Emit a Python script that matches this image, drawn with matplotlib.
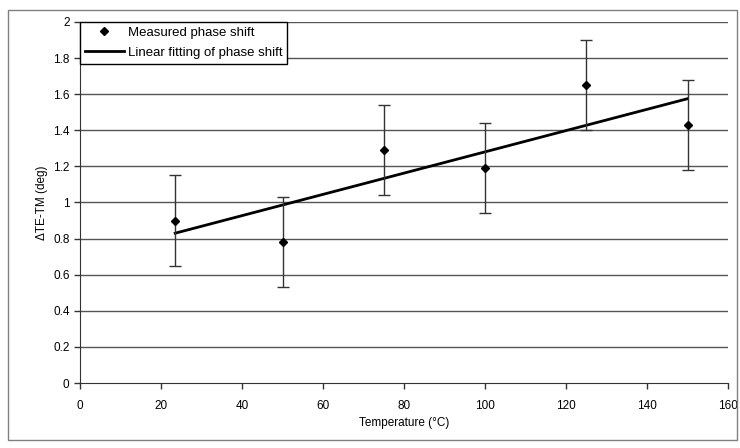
import matplotlib
matplotlib.use("Agg")
import matplotlib.pyplot as plt
from matplotlib.patches import Rectangle
from matplotlib.lines import Line2D

plt.rcParams['font.family'] = ['Liberation Sans', 'DejaVu Sans']

temp = [23.5, 50, 75, 100, 125, 150]
phase = [0.90, 0.78, 1.29, 1.19, 1.65, 1.43]
phase_err = [0.25, 0.25, 0.25, 0.25, 0.25, 0.25]
fit_x = [23.5, 150]
fit_y = [0.83, 1.575]

fig = plt.figure(figsize=(7.4, 4.48), dpi=100)
ax = fig.add_axes([80 / 740, (448 - 383) / 448, (728 - 80) / 740, (383 - 22) / 448])

fig.patches.append(Rectangle((8 / 740, 8 / 448), 729 / 740, 430 / 448, transform=fig.transFigure,
                             fill=False, edgecolor='#808080', linewidth=1.0))

for y in [0.2, 0.4, 0.6, 0.8, 1.0, 1.2, 1.4, 1.6, 1.8, 2.0]:
    ax.axhline(y, color='#555555', linewidth=1.0, zorder=0)

ax.errorbar(temp, phase, yerr=phase_err, fmt='D', color='black', markersize=4.5,
            ecolor='#333333', elinewidth=1.0, capsize=4, capthick=1.0, zorder=3)
ax.plot(fit_x, fit_y, color='black', linewidth=2.0, zorder=2)

ax.set_xlim(0, 160)
ax.set_ylim(0, 2)
ax.set_xticks(range(0, 161, 20))
ax.set_yticks([0, 0.2, 0.4, 0.6, 0.8, 1, 1.2, 1.4, 1.6, 1.8, 2])
ax.set_yticklabels(['0', '0.2', '0.4', '0.6', '0.8', '1', '1.2', '1.4', '1.6', '1.8', '2'])
ax.tick_params(axis='both', labelsize=8.5, direction='out', length=4, width=1, color='#333333')
ax.tick_params(axis='x', pad=8)
for s in ['top', 'right']:
    ax.spines[s].set_visible(False)
ax.spines['left'].set_color('#333333')
ax.spines['bottom'].set_color('#333333')

ax.set_xlabel('Temperature (°C)', fontsize=8.5)
ax.set_ylabel('ΔTE-TM (deg)', fontsize=8.5)

handles = [Line2D([], [], marker='D', color='black', linestyle='none', markersize=4.5),
           Line2D([], [], color='black', linewidth=2.0)]
labels = ['Measured phase shift', 'Linear fitting of phase shift']
leg = ax.legend(handles, labels, loc='upper left', bbox_to_anchor=(0.0, 1.0), fontsize=9.5,
                frameon=True, fancybox=False, framealpha=1, edgecolor='black',
                borderaxespad=0.0, handlelength=3.0, handletextpad=0.3, borderpad=0.35,
                labelspacing=0.6)
leg.get_frame().set_linewidth(1.0)

fig.savefig('out.png', dpi=100)
